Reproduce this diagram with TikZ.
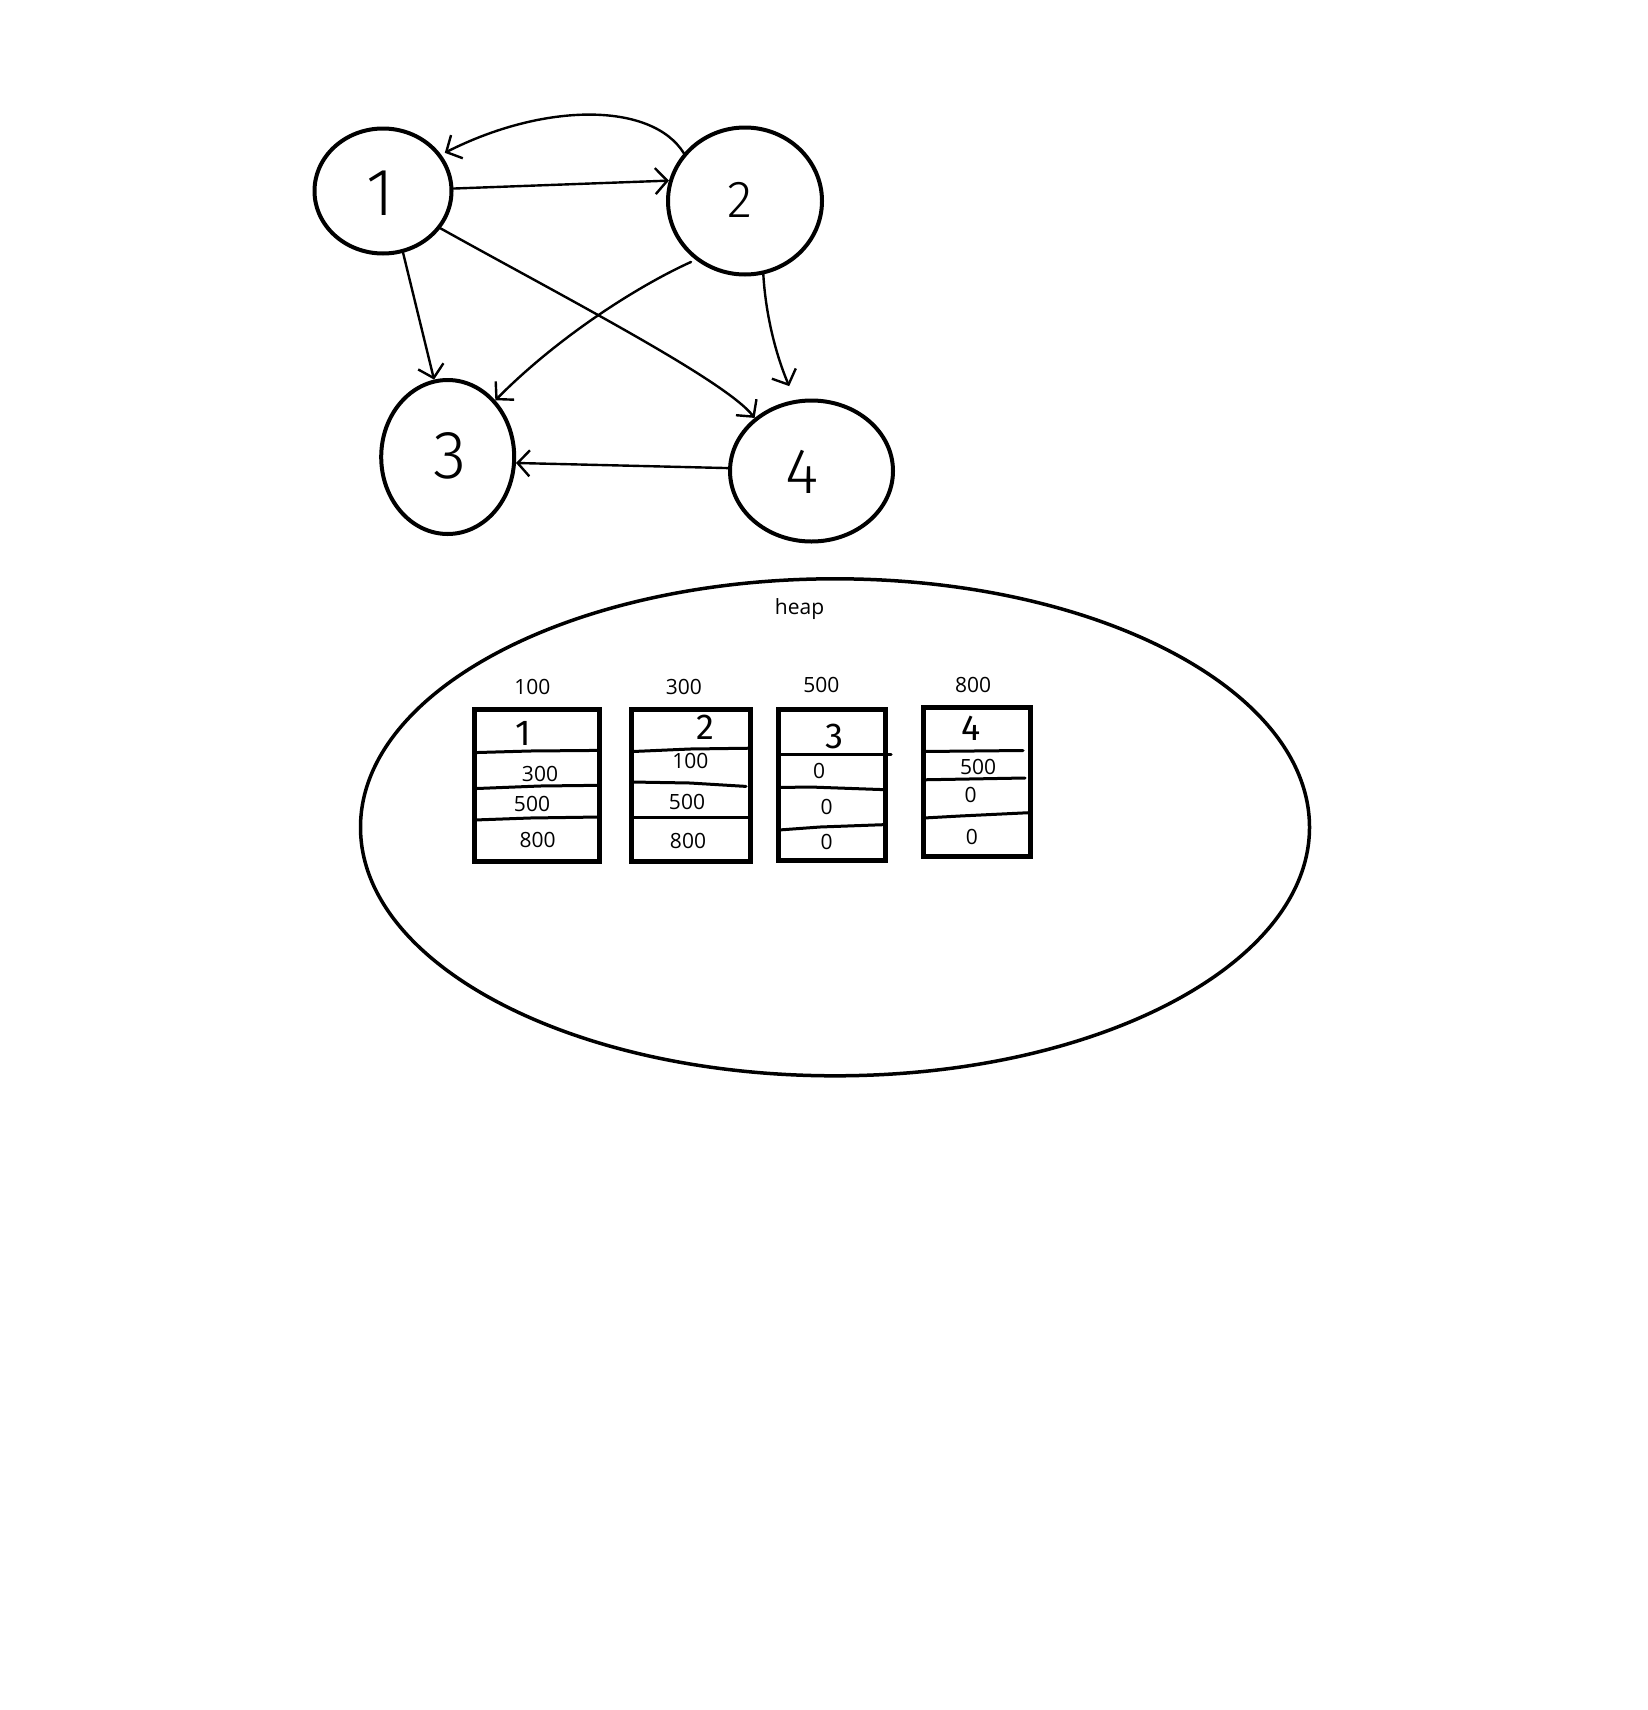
\documentclass[tikz,border=0pt]{standalone}
\usepackage{fontspec}
\setmainfont{Open Sans}
\newfontfamily\handfont{Fira Sans Light}
\newfontfamily\penfont{Fira Sans}
\usetikzlibrary{shapes.geometric,arrows.meta}
\begin{document}
\begin{tikzpicture}[x=1pt,y=-1pt,line cap=round,line join=round,
  vertex/.style={ellipse,draw,line width=4pt,inner sep=0pt},
  vlabel/.style={inner sep=0pt,font=\handfont\fontsize{#1}{#1}\selectfont},
  edge/.style={line width=2.4pt,-{Straight Barb[length=12pt,width=26pt]}},
  cellbox/.style={draw,line width=5pt,inner sep=0pt,line cap=butt,line join=miter},
  divider/.style={line width=3pt},
  entry/.style={inner sep=0pt,font=\fontsize{21}{21}\selectfont},
  tag/.style={inner sep=0pt,font=\penfont\fontsize{36}{36}\selectfont},
]
\useasboundingbox (0,0) rectangle (1648,1710);
\fill[white] (0,0) rectangle (1648,1710);

% graph vertices
\node[vertex,minimum width=137pt,minimum height=125pt] (n1) at (383,191) {};
\node[vertex,minimum width=154pt,minimum height=147pt] (n2) at (745,201) {};
\node[vertex,minimum width=133pt,minimum height=154pt] (n3) at (447.7,457) {};
\node[vertex,minimum width=163pt,minimum height=141pt] (n4) at (811.5,471) {};
\node[vlabel=67] (d1) at (380.6,193) {1};
\node[vlabel=52] (d2) at (739.5,199.6) {2};
\node[vlabel=68] (d3) at (450,456) {3};
\node[vlabel=64] (d4) at (801.7,472) {4};

% directed edges
\draw[edge] (n1.2) -- (n2.165);
\draw[edge,shorten >=4pt] (n2.142) .. controls (652,102) and (545,102) .. (n1.32);
\draw[edge] (n1.288) -- (n3.100);
\draw[edge] (n1.327) .. controls (560,295) and (725,380) .. (n4.137);
\draw[edge,shorten <=5pt] (n2.230) .. controls (640,285) and (560,335) .. (n3.50);
\draw[edge,shorten >=15pt] (n2.284) .. controls (766,320) and (778,360) .. (n4.103);
\draw[edge] (n4.178) -- (n3.355);

% heap region
\node[ellipse,draw,line width=3.5pt,minimum width=949pt,minimum height=497pt] (heap) at (835,827.3) {};
\node[entry] (heaplabel) at (799.5,609) {heap};

% address labels
\node[entry] (a1) at (532.3,687) {100};
\node[entry] (a2) at (683.9,687) {300};
\node[entry] (a3) at (821.3,685) {500};
\node[entry] (a4) at (973,685) {800};

% memory blocks
\node[cellbox,minimum width=125.3pt,minimum height=152.6pt] (b1) at (537.2,785.3) {};
\node[cellbox,minimum width=118.9pt,minimum height=152.6pt] (b2) at (691,785.3) {};
\node[cellbox,minimum width=106.8pt,minimum height=151.5pt] (b3) at (832.2,784.8) {};
\node[cellbox,minimum width=107pt,minimum height=148.3pt] (b4) at (977.3,782) {};

% block 1
\draw[divider] (474.5,752.6) -- (530,751) -- (599.8,750.4);
\draw[divider] (474.5,788.6) -- (540,786) -- (599.8,785.3);
\draw[divider] (474.5,820) -- (530,818) -- (599.8,817);
\node[tag] (t1) at (523.5,733) {1};
\node[entry] (c11) at (540,774.4) {300};
\node[entry] (c12) at (532,804) {500};
\node[entry] (c13) at (537.7,840) {800};

% block 2
\draw[divider] (633,751.5) -- (690,749) -- (750.4,748.2);
\draw[divider] (631.5,782) -- (690,783) -- (746,786.4);
\draw[divider] (631.5,817) -- (750.4,817);
\node[tag] (t2) at (705.7,727.5) {2};
\node[entry] (c21) at (690.4,761.3) {100};
\node[entry] (c22) at (687,801.7) {500};
\node[entry] (c23) at (688,841) {800};

% block 3
\draw[divider] (778.8,754.8) -- (891,754.8);
\draw[divider] (778.8,787.5) -- (810,787) -- (885.6,789.7);
\draw[divider] (778.8,830) -- (820,827) -- (885.6,824.6);
\node[tag] (t3) at (834.4,736) {3};
\node[entry] (c31) at (819,771) {0};
\node[entry] (c32) at (826.7,807) {0};
\node[entry] (c33) at (826.7,842) {0};

% block 4
\draw[divider] (923.8,751.5) -- (1023,750.5);
\draw[divider] (923.8,779.8) -- (1025,778);
\draw[divider] (923.8,818) -- (960,816) -- (1030.8,812.6);
\node[tag] (t4) at (970.7,728.6) {4};
\node[entry] (c41) at (978,766.8) {500};
\node[entry] (c42) at (970.7,795) {0};
\node[entry] (c43) at (971.8,836.6) {0};
\end{tikzpicture}
\end{document}
